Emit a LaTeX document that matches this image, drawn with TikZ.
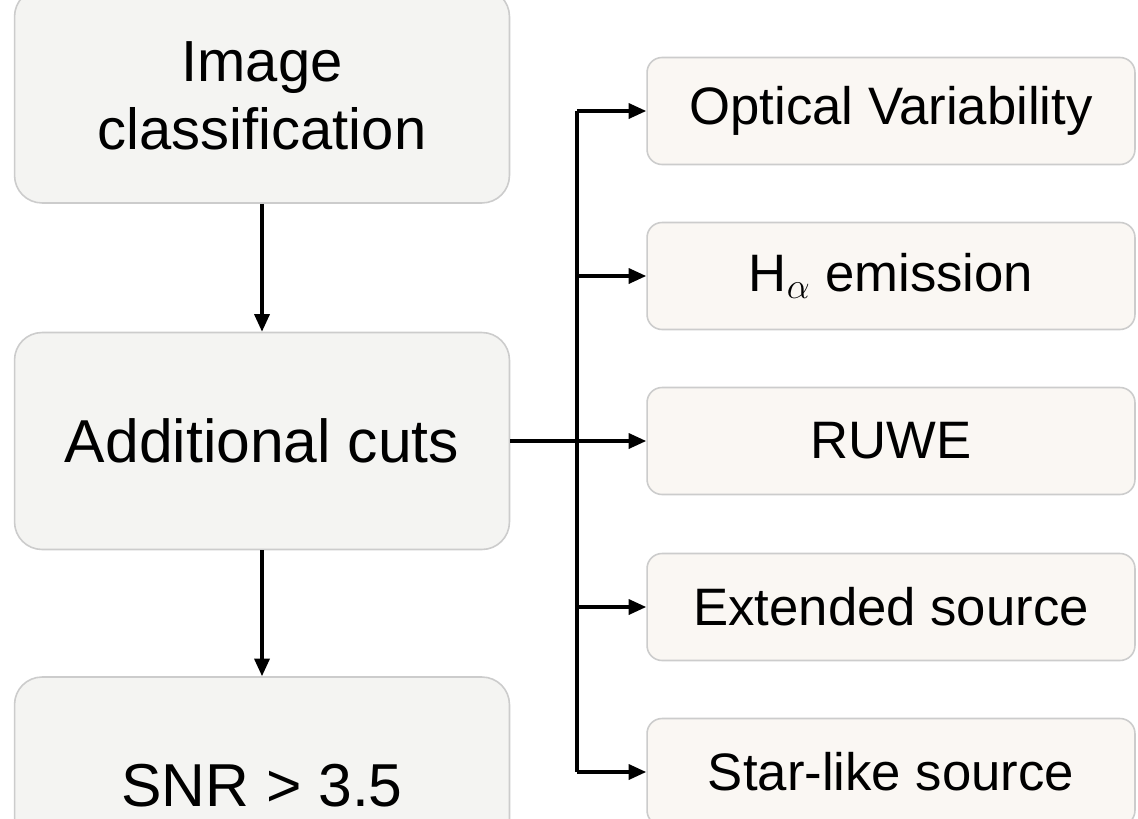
\documentclass[tikz,border=0pt]{standalone}
\usepackage{fontspec}
\setmainfont{Liberation Sans}
\usetikzlibrary{arrows.meta}
\definecolor{stagefill}{HTML}{F4F4F2}
\definecolor{cutfill}{HTML}{FAF7F3}
\definecolor{boxedge}{HTML}{CCCCCC}
\tikzset{
  stagebox/.style={draw=boxedge, line width=0.9pt, fill=stagefill, rounded corners=0.55cm,
    minimum width=9.9cm, align=center, inner sep=0pt,
    font=\fontsize{33}{39}\selectfont},
  cutbox/.style={draw=boxedge, line width=0.9pt, fill=cutfill, rounded corners=0.3cm,
    minimum width=9.76cm, minimum height=2.14cm, inner sep=0pt,
    font=\fontsize{30}{36}\selectfont},
  flow/.style={line width=2pt, -{Triangle[length=10pt,width=8.5pt]}},
  trunkline/.style={line width=2pt}
}
\begin{document}
\begin{tikzpicture}[x=0.02cm, y=-0.02cm]
  \useasboundingbox[fill=white] (0,0) rectangle (1138,818);

  % main pipeline on the left
  \node[stagebox, minimum height=4.28cm] (img) at (262,96) {Image\\classification};
  \node[stagebox, minimum height=4.34cm] (add) at (262,441) {\fontsize{34.5}{40}\selectfont Additional cuts};
  \node[stagebox, minimum height=4.36cm] (snr) at (262,786) {\fontsize{34.5}{40}\selectfont SNR > 3.5};

  % individual cuts on the right
  \node[cutbox] (opt)  at (891,111) {Optical Variability};
  \node[cutbox] (ha)   at (891,276) {H$_{\scriptstyle\alpha}$ emission};
  \node[cutbox] (ruwe) at (891,441) {RUWE};
  \node[cutbox] (ext)  at (891,607) {Extended source};
  \node[cutbox] (star) at (891,772) {Star-like source};

  \coordinate (trunk) at (577,0);

  \draw[flow] (img.south) -- (add.north);
  \draw[flow] (add.south) -- (snr.north);

  % branching from the cuts stage
  \draw[trunkline] (opt.west -| trunk) -- (star.west -| trunk);
  \draw[flow] (add.east) -- (ruwe.west);
  \draw[flow] (opt.west -| trunk) -- (opt.west);
  \draw[flow] (ha.west -| trunk) -- (ha.west);
  \draw[flow] (ext.west -| trunk) -- (ext.west);
  \draw[flow] (star.west -| trunk) -- (star.west);
\end{tikzpicture}
\end{document}
